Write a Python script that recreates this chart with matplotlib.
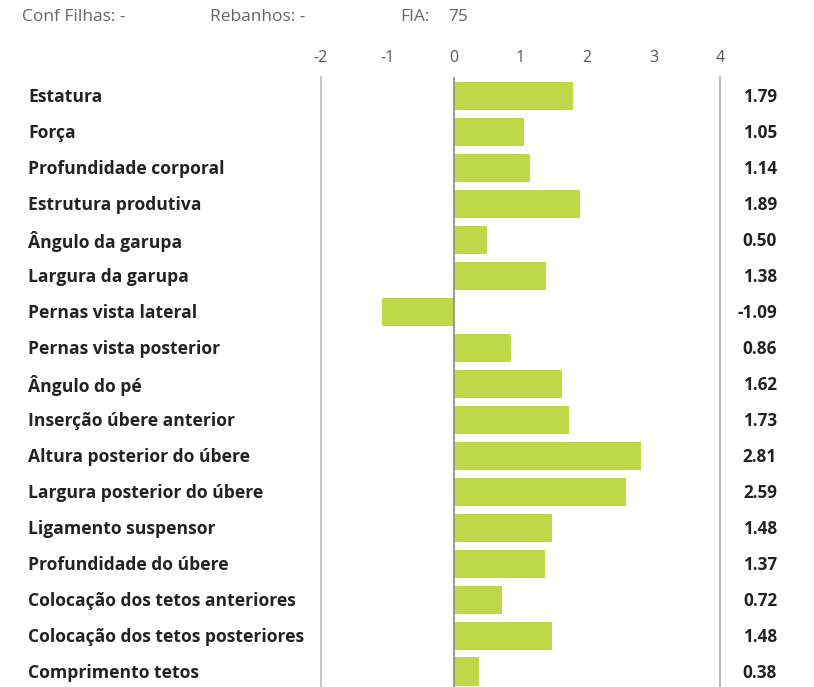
import matplotlib.pyplot as plt

plt.rcParams['font.family'] = ['Open Sans', 'DejaVu Sans']

# traits and values
traits = ['Estatura', 'Força', 'Profundidade corporal', 'Estrutura produtiva',
          'Ângulo da garupa', 'Largura da garupa', 'Pernas vista lateral',
          'Pernas vista posterior', 'Ângulo do pé', 'Inserção úbere anterior',
          'Altura posterior do úbere', 'Largura posterior do úbere',
          'Ligamento suspensor', 'Profundidade do úbere',
          'Colocação dos tetos anteriores', 'Colocação dos tetos posteriores',
          'Comprimento tetos']
values = [1.79, 1.05, 1.14, 1.89, 0.50, 1.38, -1.09, 0.86, 1.62, 1.73,
          2.81, 2.59, 1.48, 1.37, 0.72, 1.48, 0.38]
x_ticks = [-2, -1, 0, 1, 2, 3, 4]
header = [('Conf Filhas: -', 22), ('Rebanhos: -', 210), ('FIA:', 400), ('75', 448)]

W, H = 814, 687
fig = plt.figure(figsize=(W / 100, H / 100), dpi=100)
ax = fig.add_axes([321 / W, 0, (720 - 321) / W, 1 - 77 / H])

y = list(range(len(traits)))
ax.barh(y, values, height=0.8, color='#bfd847', zorder=2)
ax.axvline(0, color='#8a8a8a', lw=1.2, zorder=3)

ax.set_xlim(-2, 4)
ax.set_ylim(16.42, -0.53)
ax.xaxis.tick_top()
ax.set_xticks(x_ticks)
ax.set_xticklabels([str(t) for t in x_ticks], color='#555555', fontsize=11.5)
ax.tick_params(axis='x', length=0, pad=8)
ax.set_yticks([])
for s in ['top', 'bottom']:
    ax.spines[s].set_visible(False)
ax.spines['left'].set_color('#bbbbbb')
ax.spines['right'].set_color('#bbbbbb')
ax.spines['left'].set_linewidth(1.2)
ax.spines['right'].set_linewidth(1.5)

for i, (t, v) in enumerate(zip(traits, values)):
    yf = 1 - (97 + 36 * i) / H
    fig.text(28 / W, yf, t, fontsize=12.6, fontweight='bold', color='#222222',
             ha='left', va='center')
    fig.text(777 / W, yf, f'{v:.2f}', fontsize=12.3, fontweight='bold',
             color='#222222', ha='right', va='center')

for txt, xp in header:
    fig.text(xp / W, 1 - 17 / H, txt, fontsize=12.5, color='#666666',
             ha='left', va='center')

fig.savefig('out.png', dpi=100)
